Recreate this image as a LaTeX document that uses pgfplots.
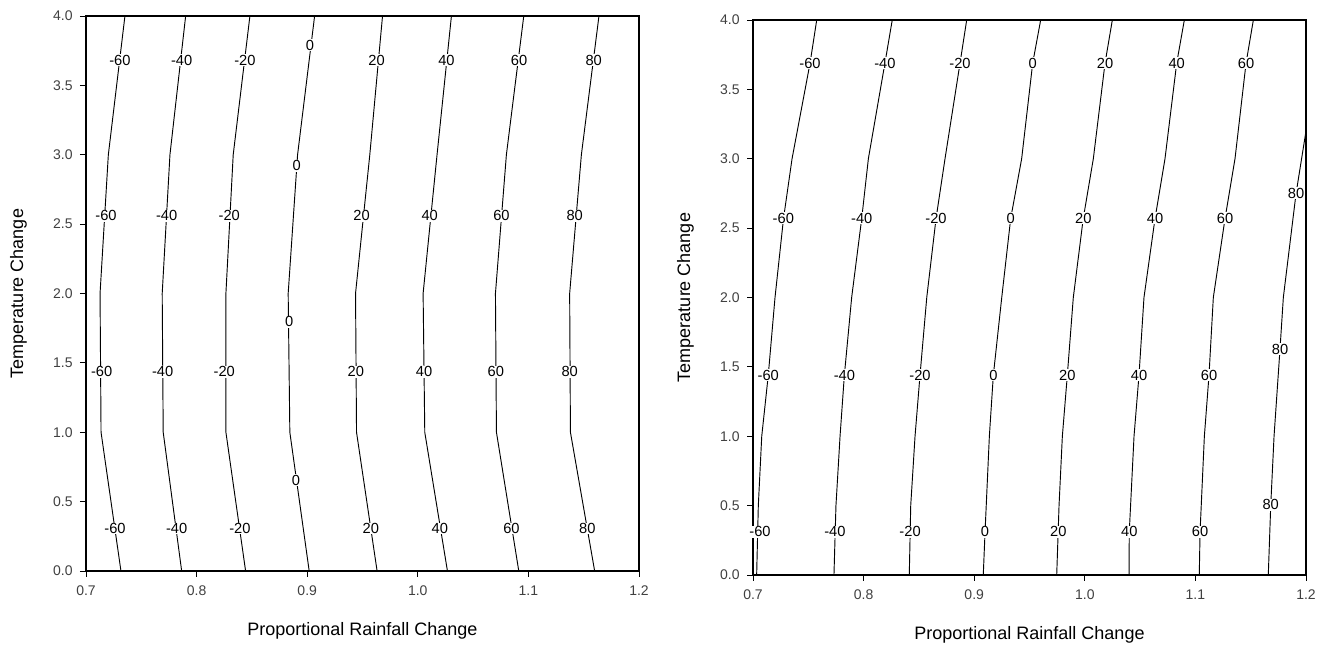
\documentclass[border=0pt]{standalone}
\usepackage{fontspec}
\setmainfont{Liberation Sans}
\usepackage{pgfplots}
\pgfplotsset{compat=1.18}

\pgfplotsset{
  panel/.style={
    scale only axis, width=414.75pt, height=416.25pt,
    xmin=0.7, xmax=1.2, ymin=0, ymax=4,
    xtick={0.7,0.8,0.9,1.0,1.1,1.2},
    ytick={0,0.5,1,1.5,2,2.5,3,3.5,4},
    tick pos=left, tick align=outside, major tick length=4.5pt,
    tick style={black, line width=0.6pt},
    axis line style={black, line width=0.8pt},
    /pgf/number format/assume math mode=true,
    /pgf/number format/fixed, /pgf/number format/fixed zerofill,
    /pgf/number format/precision=1,
    tick label style={font=\fontsize{10.5}{12}\selectfont, text=black!75},
    yticklabel style={xshift=-2pt},
    xticklabel style={yshift=-3pt},
    xlabel style={at={(axis description cs:0.5,-0.117)}, anchor=base, font=\fontsize{13.5}{15}\selectfont},
    ylabel style={at={(axis description cs:-0.122,0.5)}, anchor=center, font=\fontsize{13.5}{15}\selectfont},
    xlabel={Proportional Rainfall Change},
    ylabel={Temperature Change},
  },
  cline/.style={black, line width=0.7pt},
  clabel/.style={draw=none, nodes near coords, point meta=explicit symbolic,
    nodes near coords align=center,
    every node near coord/.style={anchor=center, fill=white, inner sep=0.5pt, text=black,
      font=\fontsize{11}{12}\selectfont}},
}

\begin{document}
\begin{tikzpicture}
\useasboundingbox (0,0) rectangle (993pt,486pt);

% left panel
\begin{axis}[panel, at={(64.5pt,57.75pt)}, anchor=south west]
\addplot[cline] coordinates {(0.7316,0) (0.7136,1) (0.7127,2) (0.7202,3) (0.7352,4)};
\addplot[cline] coordinates {(0.7865,0) (0.7698,1) (0.7689,2) (0.7759,3) (0.7901,4)};
\addplot[cline] coordinates {(0.8443,0) (0.8265,1) (0.8265,2) (0.8331,3) (0.8482,4)};
\addplot[cline] coordinates {(0.9018,0) (0.8843,1) (0.8828,2) (0.8913,3) (0.9067,4)};
\addplot[cline] coordinates {(0.9632,0) (0.9446,1) (0.9437,2) (0.9566,3) (0.9681,4)};
\addplot[cline] coordinates {(1.0268,0) (1.0063,1) (1.0048,2) (1.0174,3) (1.0304,4)};
\addplot[cline] coordinates {(1.0913,0) (1.0711,1) (1.0702,2) (1.0801,3) (1.0958,4)};
\addplot[cline] coordinates {(1.1599,0) (1.1380,1) (1.1373,2) (1.1479,3) (1.1638,4)};
\addplot[clabel] table[meta=lab, row sep=\\] {
x y lab \\
0.7307 3.683 -60 \\ 0.7865 3.683 -40 \\ 0.8437 3.683 -20 \\ 0.9024 3.791 0 \\
0.9627 3.683 20 \\ 1.0259 3.683 40 \\ 1.0915 3.683 60 \\ 1.1590 3.683 80 \\
0.7181 2.559 -60 \\ 0.7729 2.559 -40 \\ 0.8295 2.559 -20 \\ 0.8904 2.921 0 \\
0.9491 2.559 20 \\ 1.0108 2.559 40 \\ 1.0756 2.559 60 \\ 1.1419 2.559 80 \\
0.7142 1.436 -60 \\ 0.7693 1.436 -40 \\ 0.8250 1.436 -20 \\ 0.8837 1.797 0 \\
0.9440 1.436 20 \\ 1.0057 1.436 40 \\ 1.0705 1.436 60 \\ 1.1373 1.436 80 \\
0.7262 0.307 -60 \\ 0.7820 0.307 -40 \\ 0.8392 0.307 -20 \\ 0.8898 0.656 0 \\
0.9575 0.307 20 \\ 1.0199 0.307 40 \\ 1.0847 0.307 60 \\ 1.1533 0.307 80 \\
};
\end{axis}

% right panel
\begin{axis}[panel, at={(564.75pt,54.75pt)}, anchor=south west]
\addplot[cline] coordinates {(0.7033,0) (0.7048,0.5) (0.7079,1) (0.7138,1.44) (0.7199,2) (0.7276,2.57) (0.7353,3) (0.7516,3.69) (0.7576,4)};
\addplot[cline] coordinates {(0.7732,0) (0.7750,0.5) (0.7787,1) (0.7826,1.44) (0.7892,2) (0.7983,2.57) (0.8043,3) (0.8193,3.69) (0.8259,4)};
\addplot[cline] coordinates {(0.8413,0) (0.8426,0.5) (0.8465,1) (0.8510,1.44) (0.8571,2) (0.8655,2.57) (0.8736,3) (0.8872,3.69) (0.8932,4)};
\addplot[cline] coordinates {(0.9082,0) (0.9098,0.31) (0.9137,1) (0.9173,1.44) (0.9249,2) (0.9330,2.57) (0.9429,3) (0.9529,3.69) (0.9601,4)};
\addplot[cline] coordinates {(0.9746,0) (0.9767,0.5) (0.9797,1) (0.9842,1.44) (0.9896,2) (0.9986,2.57) (1.0077,3) (1.0183,3.69) (1.0249,4)};
\addplot[cline] coordinates {(1.0400,0) (1.0402,0.31) (1.0445,1) (1.0490,1.44) (1.0535,2) (1.0635,2.57) (1.0725,3) (1.0831,3.69) (1.0900,4)};
\addplot[cline] coordinates {(1.1035,0) (1.1042,0.31) (1.1081,1) (1.1123,1.44) (1.1162,2) (1.1268,2.57) (1.1358,3) (1.1458,3.69) (1.1524,4)};
\addplot[cline] coordinates {(1.1659,0) (1.1681,0.5) (1.1711,1) (1.1765,1.63) (1.1795,2) (1.1910,2.75) (1.2000,3.2)};
\addplot[clabel] table[meta=lab, row sep=\\] {
x y lab \\
0.7515 3.688 -60 \\ 0.8193 3.688 -40 \\ 0.8872 3.688 -20 \\ 0.9529 3.688 0 \\
1.0183 3.688 20 \\ 1.0831 3.688 40 \\ 1.1458 3.688 60 \\
0.7274 2.571 -60 \\ 0.7983 2.571 -40 \\ 0.8655 2.571 -20 \\ 0.9330 2.571 0 \\
0.9986 2.571 20 \\ 1.0635 2.571 40 \\ 1.1268 2.571 60 \\ 1.1910 2.751 80 \\
0.7138 1.441 -60 \\ 0.7826 1.441 -40 \\ 0.8510 1.441 -20 \\ 0.9173 1.441 0 \\
0.9842 1.441 20 \\ 1.0490 1.441 40 \\ 1.1123 1.441 60 \\ 1.1765 1.627 80 \\
0.7063 0.312 -60 \\ 0.7741 0.312 -40 \\ 0.8420 0.312 -20 \\ 0.9098 0.312 0 \\
0.9760 0.312 20 \\ 1.0402 0.312 40 \\ 1.1042 0.312 60 \\ 1.1681 0.505 80 \\
};
\end{axis}
\end{tikzpicture}
\end{document}
